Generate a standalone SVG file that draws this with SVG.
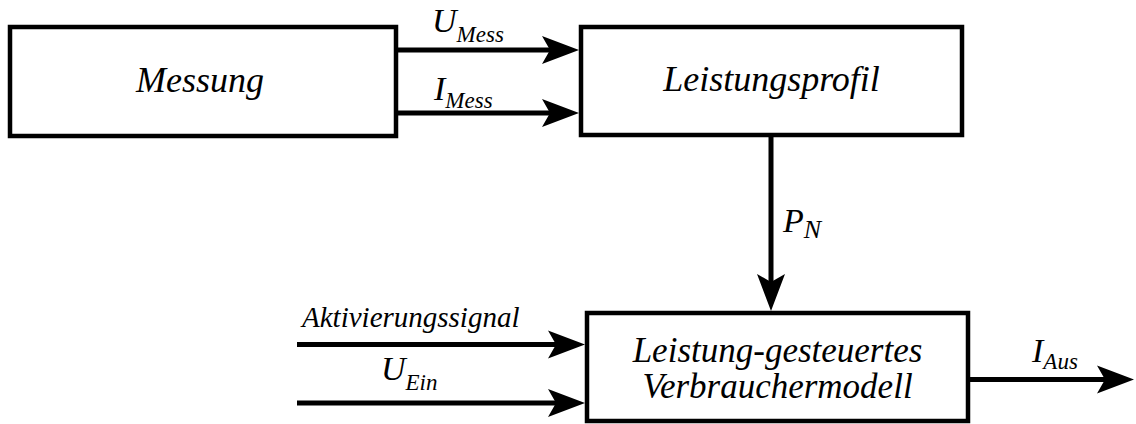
<svg xmlns="http://www.w3.org/2000/svg" width="1136" height="424" viewBox="0 0 1136 424">
<style>
.box{fill:#fff;stroke:#000;stroke-width:4.5;stroke-linejoin:miter}
.wire{fill:none;stroke:#000;stroke-width:5;marker-end:url(#ah)}
.t{font-family:'Liberation Serif','Times New Roman',serif;font-style:italic;fill:#000}
.big{font-size:36px}
.lab{font-size:34px}
.sub{font-size:23px}
</style>
<defs>
<marker id="ah" markerUnits="userSpaceOnUse" viewBox="-1 -15 39 30" markerWidth="39" markerHeight="30" refX="8" refY="0" orient="auto" overflow="visible">
<path d="M37,0 L0,-14 L8,0 L0,14 Z" fill="#000"/>
</marker>
</defs>
<g id="connectors">
<path class="wire" d="M398,50 H550"/>
<path class="wire" d="M398,113 H550"/>
<path class="wire" d="M771,137 V282"/>
<path class="wire" d="M297,344.5 H556"/>
<path class="wire" d="M297,403 H556"/>
<path class="wire" d="M970,379.5 H1105"/>
<text class="t lab" x="432" y="32">U<tspan class="sub" dy="10">Mess</tspan></text>
<text class="t lab" x="434" y="100">I<tspan class="sub" dy="8">Mess</tspan></text>
<text class="t lab" x="783" y="232">P<tspan font-size="26" dy="6">N</tspan></text>
<text class="t" font-size="29" x="302" y="327">Aktivierungssignal</text>
<text class="t lab" x="381" y="380">U<tspan class="sub" dy="10">Ein</tspan></text>
<text class="t lab" x="1032" y="362">I<tspan class="sub" dy="7">Aus</tspan></text>
</g>
<g id="messung">
<rect class="box" x="10" y="27" width="386" height="109"/>
<text class="t big" x="200" y="92" text-anchor="middle">Messung</text>
</g>
<g id="leistungsprofil">
<rect class="box" x="581" y="27" width="381" height="108"/>
<text class="t big" x="771.5" y="91" text-anchor="middle">Leistungsprofil</text>
</g>
<g id="verbrauchermodell">
<rect class="box" x="587" y="313" width="381" height="108"/>
<text class="t" font-size="35" x="777.5" y="362" text-anchor="middle">Leistung-gesteuertes</text>
<text class="t" font-size="35" x="777.5" y="398" text-anchor="middle">Verbrauchermodell</text>
</g>
</svg>
